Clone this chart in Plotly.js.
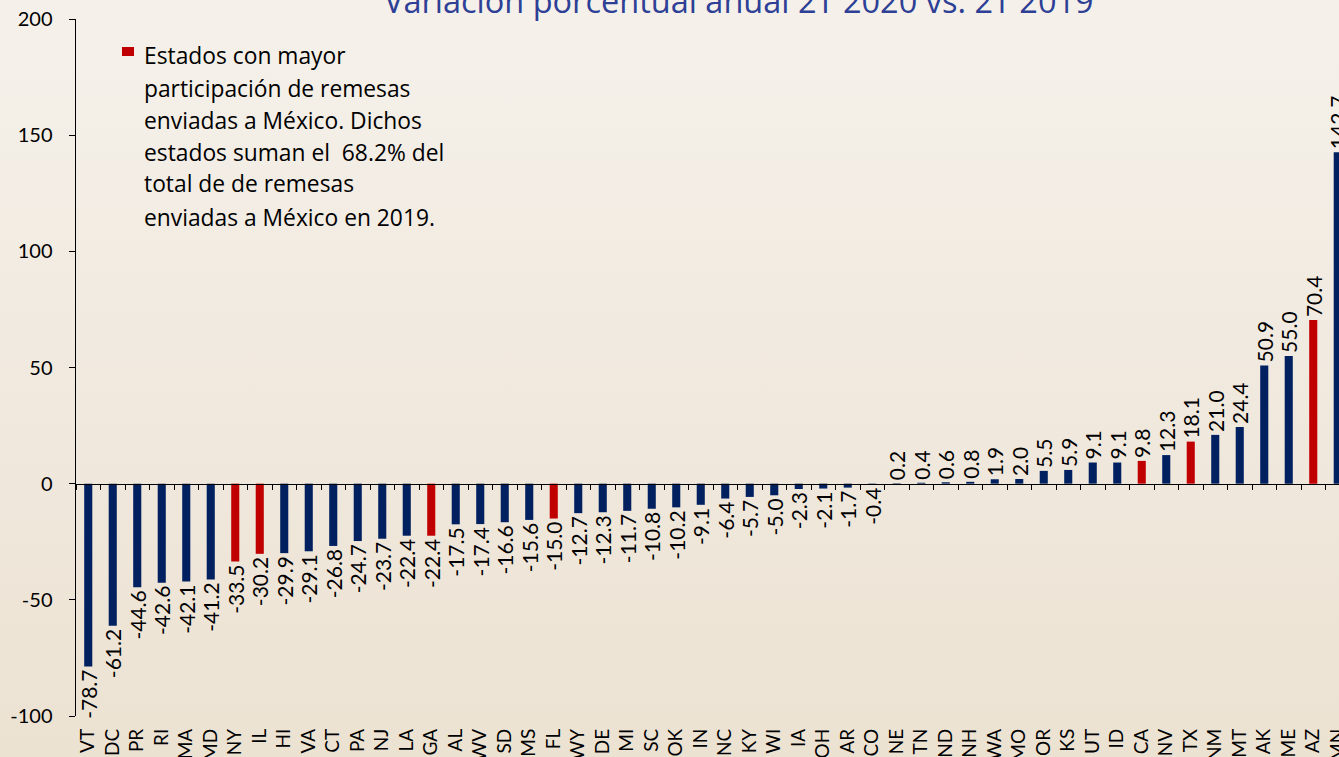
<!DOCTYPE html>
<html>
<head>
<meta charset="utf-8">
<script src="https://cdn.plot.ly/plotly-3.0.1.min.js"></script>
<style>
  html, body { margin: 0; padding: 0; width: 1339px; height: 757px; overflow: hidden;
    background: linear-gradient(to bottom, #F5F1EA 0%, #F1EAE0 45%, #ECE2D2 100%); }
  #chart { position: absolute; left: 0; top: -40px; width: 1360px; height: 837px; }
</style>
</head>
<body>
<div id="chart"></div>
<script>
// ---- data ----
const states = ['VT','DC','PR','RI','MA','MD','NY','IL','HI','VA','CT','PA','NJ','LA','GA','AL','WV','SD','MS','FL',
                'WY','DE','MI','SC','OK','IN','NC','KY','WI','IA','OH','AR','CO','NE','TN','ND','NH','WA','MO','OR',
                'KS','UT','ID','CA','NV','TX','NM','MT','AK','ME','AZ','MN'];
const changePct = [-78.7,-61.2,-44.6,-42.6,-42.1,-41.2,-33.5,-30.2,-29.9,-29.1,-26.8,-24.7,-23.7,-22.4,-22.4,-17.5,-17.4,-16.6,-15.6,-15.0,
                   -12.7,-12.3,-11.7,-10.8,-10.2,-9.1,-6.4,-5.7,-5.0,-2.3,-2.1,-1.7,-0.4,0.2,0.4,0.6,0.8,1.9,2.0,5.5,
                   5.9,9.1,9.1,9.8,12.3,18.1,21.0,24.4,50.9,55.0,70.4,142.7];
const topStates = ['NY','IL','GA','FL','CA','TX','AZ'];
const yTicks = [-100,-50,0,50,100,150,200];
const titleText = 'Variación porcentual anual 2T 2020 vs. 2T 2019';
const noteLines = ['Estados con mayor','participación de remesas','enviadas a México. Dichos',
                   'estados suman el  68.2% del','total de de remesas','enviadas a México en 2019.'];

// ---- styling ----
const NAVY = '#002060', RED = '#C00000';
const FONT = 'Lato, "Noto Sans", sans-serif';
const FONT2 = '"Open Sans", Lato, sans-serif';
// plot area in page pixels (used for paper-coordinate helpers)
const PL = 76, PR = 1350, PT = 19, PB = 716;
const px2paper = x => (x - PL) / (PR - PL);
const py2paper = y => (PB - y) / (PB - PT);

const colors = states.map(s => topStates.includes(s) ? RED : NAVY);
const labels = changePct.map(v => v.toFixed(1));

const bars = {
  type: 'bar', x: states, y: changePct,
  marker: { color: colors, line: { width: 0 } },
  text: labels, textposition: 'outside', textangle: -90, constraintext: 'none',
  textfont: { family: FONT, size: 21, color: '#000' },
  cliponaxis: false, hoverinfo: 'x+y', showlegend: false
};
const axisHelper = {
  type: 'scatter', mode: 'markers', x: states, y: states.map(() => null),
  xaxis: 'x2', yaxis: 'y', showlegend: false, hoverinfo: 'skip'
};

const annotations = [{
  text: titleText, xref: 'paper', yref: 'paper', x: px2paper(739), y: 1,
  xanchor: 'center', yanchor: 'bottom', yshift: -6, showarrow: false,
  font: { family: FONT2, size: 32.5, color: '#2E3F96' }
}];
const baselines = [63, 96, 128, 160, 192, 225];
noteLines.forEach((t, i) => annotations.push({
  text: t, xref: 'paper', yref: 'paper', x: px2paper(142), y: py2paper(baselines[i] - 8),
  xanchor: 'left', yanchor: 'middle', showarrow: false,
  font: { family: FONT2, size: 22.8, color: '#000' }
}));

const layout = {
  width: 1360, height: 837,
  margin: { l: PL, r: 1360 - PR, t: PT + 40, b: 837 - (PB + 40), pad: 0 },
  paper_bgcolor: 'rgba(0,0,0,0)', plot_bgcolor: 'rgba(0,0,0,0)',
  bargap: 0.67, showlegend: false,
  xaxis: {
    type: 'category', range: [-0.5, states.length - 0.5], categoryorder: 'array', categoryarray: states,
    showline: false, ticks: '', showgrid: false, zeroline: false,
    tickangle: -90, tickfont: { family: FONT, size: 19, color: '#000' }, ticklabelstandoff: 8,
    automargin: false
  },
  xaxis2: {
    type: 'category', overlaying: 'x', anchor: 'free', position: 1/3, side: 'bottom',
    range: [-0.5, states.length - 0.5], categoryorder: 'array', categoryarray: states,
    showline: true, linecolor: '#000', linewidth: 1.5,
    ticks: 'outside', ticklen: 5, tickwidth: 1, tickcolor: '#000',
    tickson: 'boundaries', tickmode: 'array', tickvals: states,
    showticklabels: false, showgrid: false, zeroline: false
  },
  yaxis: {
    range: [-100, 200], tickmode: 'array', tickvals: yTicks, ticktext: yTicks.map(String),
    showline: true, linecolor: '#000', linewidth: 1.5,
    ticks: 'outside', ticklen: 6, tickcolor: '#000',
    showgrid: false, zeroline: false, ticklabelstandoff: 12,
    tickfont: { family: FONT, size: 20, color: '#000' }, automargin: false
  },
  shapes: [{
    type: 'rect', xref: 'paper', yref: 'paper',
    x0: px2paper(122), x1: px2paper(134), y0: py2paper(56), y1: py2paper(47),
    fillcolor: RED, line: { width: 0 }
  }],
  annotations: annotations
};

Plotly.newPlot('chart', [bars, axisHelper], layout, { displayModeBar: false, staticPlot: true });
</script>
</body>
</html>
